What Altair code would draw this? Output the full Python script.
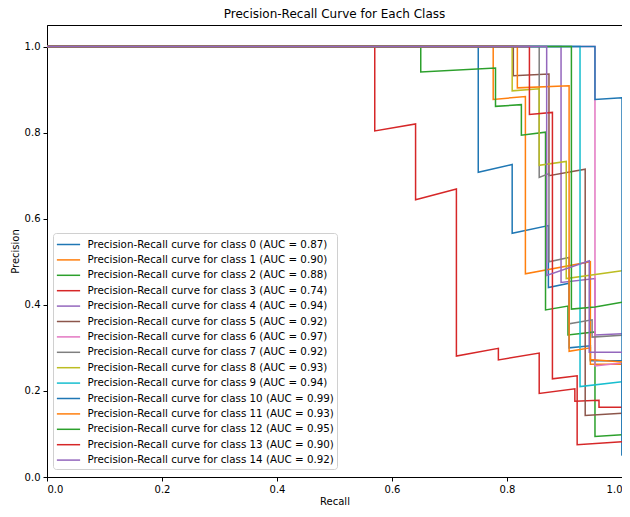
import altair as alt
import pandas as pd

colors = ["#1f77b4", "#ff7f0e", "#2ca02c", "#d62728", "#9467bd", "#8c564b", "#e377c2",
          "#7f7f7f", "#bcbd22", "#17becf", "#1f77b4", "#ff7f0e", "#2ca02c", "#d62728", "#9467bd"]
auc = [0.87, 0.90, 0.88, 0.74, 0.94, 0.92, 0.97, 0.92, 0.93, 0.94, 0.99, 0.93, 0.95, 0.90, 0.92]

recall_0 = [0, 0.750, 0.750, 0.809, 0.809, 0.872, 0.872, 0.908, 0.908, 0.945, 0.945, 1.0, 1.0]
precision_0 = [1, 1, 0.708, 0.726, 0.566, 0.584, 0.440, 0.450, 0.300, 0.305, 0.270, 0.270, 0.050]
recall_1 = [0, 0.776, 0.776, 0.832, 0.832, 0.945, 0.945, 1.0]
precision_1 = [1, 1, 0.877, 0.884, 0.472, 0.500, 0.262, 0.262]
recall_2 = [0, 0.650, 0.650, 0.780, 0.780, 0.825, 0.825, 0.867, 0.867, 0.906, 0.906, 0.953, 0.953, 1.0]
precision_2 = [1, 1, 0.941, 0.950, 0.861, 0.865, 0.794, 0.801, 0.388, 0.397, 0.330, 0.337, 0.094, 0.098]
recall_3 = [0, 0.570, 0.570, 0.641, 0.641, 0.712, 0.712, 0.785, 0.785, 0.856, 0.856, 0.918, 0.918, 0.960, 0.960, 1.0]
precision_3 = [1, 1, 0.804, 0.820, 0.644, 0.669, 0.281, 0.299, 0.272, 0.288, 0.194, 0.205, 0.176, 0.178, 0.162, 0.162]
recall_4 = [0, 0.894, 0.894, 0.953, 0.953, 1.0]
precision_4 = [1, 1, 0.452, 0.461, 0.330, 0.333]
recall_5 = [0, 0.811, 0.811, 0.873, 0.873, 0.936, 0.936, 1.0]
precision_5 = [1, 1, 0.932, 0.936, 0.700, 0.715, 0.143, 0.148]
recall_6 = [0, 0.953, 0.953, 1.0]
precision_6 = [1, 1, 0.258, 0.265]
recall_7 = [0, 0.856, 0.856, 0.873, 0.873, 0.908, 0.908, 0.948, 0.948, 1.0]
precision_7 = [1, 1, 0.696, 0.705, 0.500, 0.510, 0.356, 0.365, 0.325, 0.329]
recall_8 = [0, 0.809, 0.809, 0.856, 0.856, 0.903, 0.903, 1.0]
precision_8 = [1, 1, 0.897, 0.902, 0.724, 0.733, 0.461, 0.479]
recall_9 = [0, 0.927, 0.927, 1.0]
precision_9 = [1, 1, 0.210, 0.221]
recall_10 = [0, 0.953, 0.953, 1.0, 1.0]
precision_10 = [1, 1, 0.877, 0.881, 0.050]
recall_11 = [0, 0.818, 0.818, 0.908, 0.908, 0.945, 0.945, 1.0]
precision_11 = [1, 1, 0.904, 0.909, 0.292, 0.300, 0.273, 0.267]
recall_12 = [0, 0.912, 0.912, 0.953, 0.953, 1.0]
precision_12 = [1, 1, 0.390, 0.395, 0.395, 0.406]
recall_13 = [0, 0.839, 0.839, 0.879, 0.879, 0.922, 0.922, 1.0]
precision_13 = [1, 1, 0.842, 0.847, 0.228, 0.235, 0.075, 0.082]
recall_14 = [0, 0.869, 0.869, 0.943, 0.943, 1.0]
precision_14 = [1, 1, 0.468, 0.502, 0.290, 0.290]

recalls = [recall_0, recall_1, recall_2, recall_3, recall_4, recall_5, recall_6, recall_7,
           recall_8, recall_9, recall_10, recall_11, recall_12, recall_13, recall_14]
precisions = [precision_0, precision_1, precision_2, precision_3, precision_4, precision_5,
              precision_6, precision_7, precision_8, precision_9, precision_10, precision_11,
              precision_12, precision_13, precision_14]

labels = [f"Precision-Recall curve for class {i} (AUC = {a:.2f})" for i, a in enumerate(auc)]

rows = []
for i in range(15):
    for j, (r, p) in enumerate(zip(recalls[i], precisions[i])):
        rows.append({"cls": labels[i], "k": i, "idx": j, "recall": r, "precision": p})
df = pd.DataFrame(rows)

ticks = [0.0, 0.2, 0.4, 0.6, 0.8, 1.0]

chart = alt.Chart(df).mark_line(strokeWidth=1.5, strokeJoin="miter", clip=True).encode(
    x=alt.X("recall:Q", title="Recall",
            scale=alt.Scale(domain=[0, 1], nice=False, zero=False),
            axis=alt.Axis(values=ticks, format=".1f", grid=False, titlePadding=2)),
    y=alt.Y("precision:Q", title="Precision",
            scale=alt.Scale(domain=[0, 1.05], nice=False, zero=False),
            axis=alt.Axis(values=ticks, format=".1f", grid=False)),
    color=alt.Color("cls:N", sort=labels,
                    scale=alt.Scale(domain=labels, range=colors),
                    legend=alt.Legend(title=None, orient="none", legendX=6, legendY=208,
                                      symbolType="M-1.5,0H1.5", symbolSize=240, symbolStrokeWidth=1.5,
                                      symbolOffset=4, labelOffset=10.5,
                                      labelFontSize=10.3, labelFont="DejaVu Sans", labelLimit=400,
                                      rowPadding=1.4, padding=3, strokeColor="#d0d0d0",
                                      fillColor="white", cornerRadius=3)),
    detail="k:O",
    order="idx:Q",
).properties(
    width=575, height=452,
    title=alt.Title("Precision-Recall Curve for Each Class", fontSize=12, fontWeight="normal",
                    font="DejaVu Sans", offset=4),
    autosize=alt.AutoSizeParams(type="none"),
    padding={"left": 39, "top": 17, "right": 0, "bottom": 29},
).configure_view(
    stroke="black", strokeWidth=1
).configure_axis(
    labelFont="DejaVu Sans", titleFont="DejaVu Sans", labelFontSize=10, titleFontSize=10,
    labelColor="black", titleColor="black", domainColor="black", tickColor="black",
    titleFontWeight="normal", tickSize=4, labelPadding=3
)

chart.save("out.html", embed_options={"renderer": "svg", "actions": False})
